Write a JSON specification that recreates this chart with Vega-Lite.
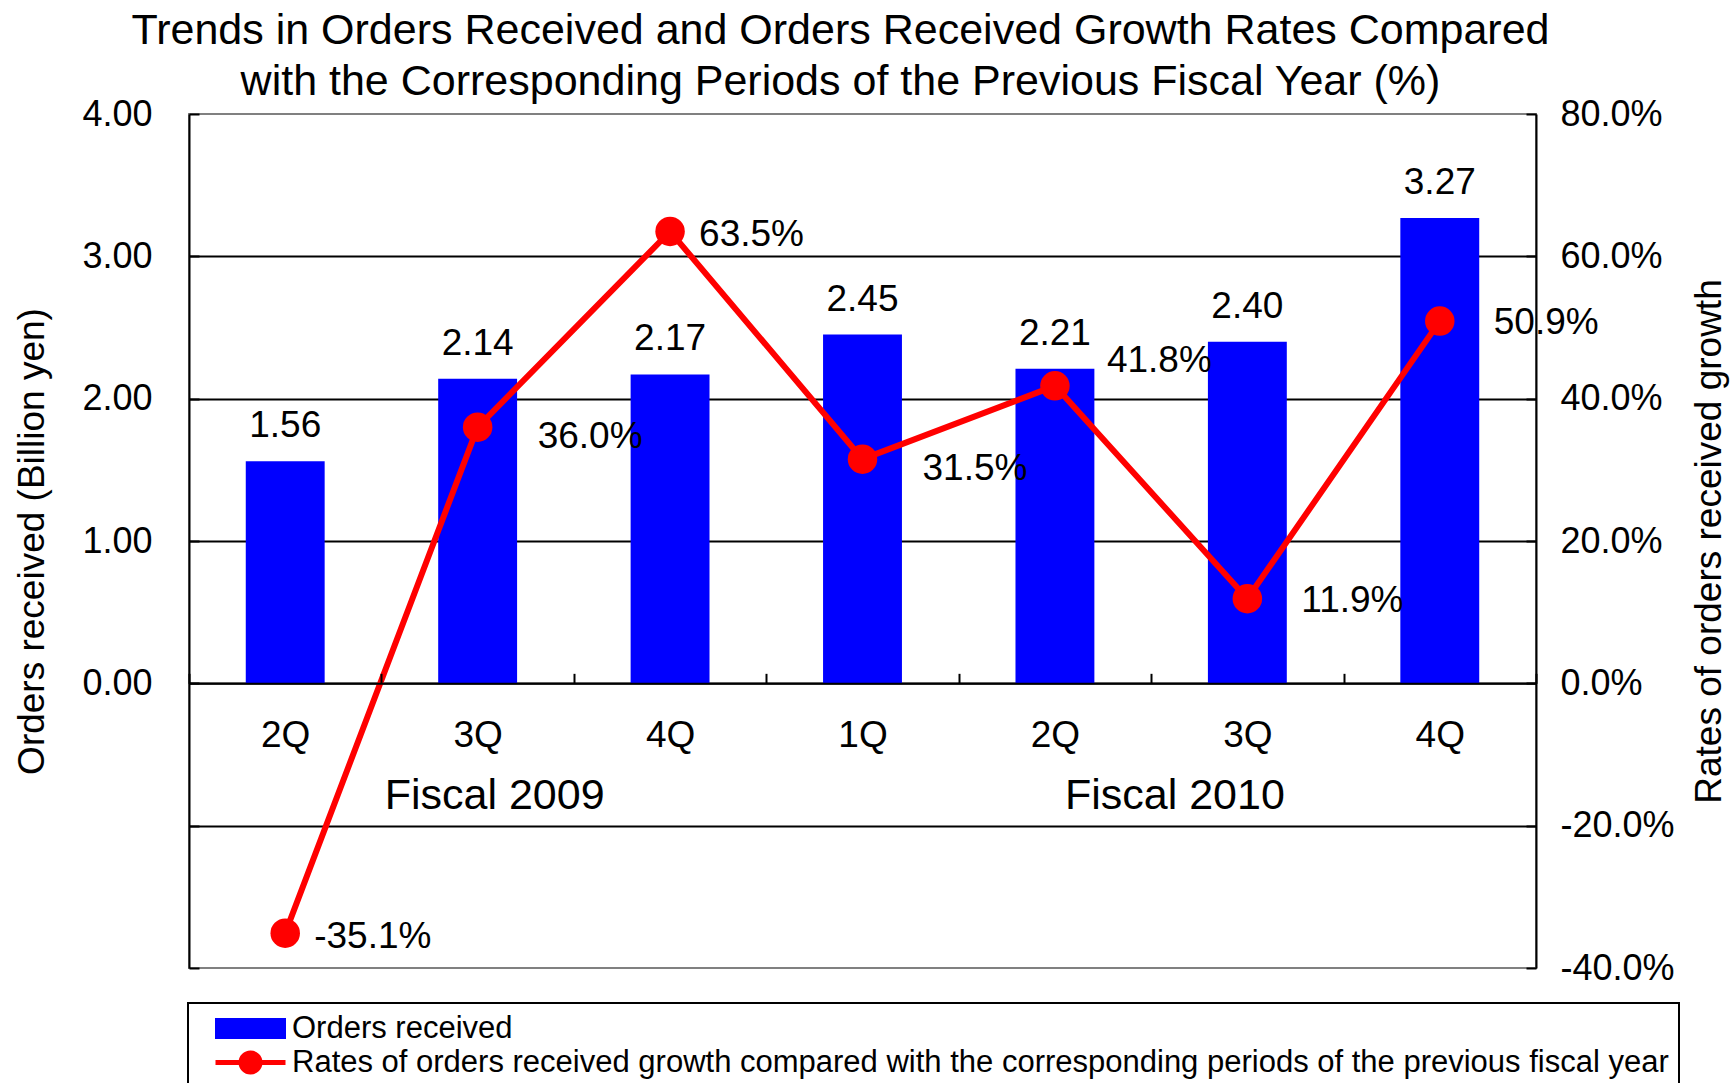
{
  "$schema": "https://vega.github.io/schema/vega-lite/v6.json",
  "width": 1347,
  "height": 854,
  "autosize": {"type": "none"},
  "padding": {"left": 189, "top": 114, "right": 199, "bottom": 115},
  "background": "white",
  "config": {
    "font": "Liberation Sans",
    "locale": {"number": {"decimal": ".", "thousands": ",", "grouping": [3], "currency": ["$", ""], "minus": "-"}},
    "view": {"stroke": "#808080", "strokeWidth": 2},
    "axis": {"labelFont": "Liberation Sans", "titleFont": "Liberation Sans", "labelColor": "black", "titleColor": "black", "titleFontWeight": "normal"},
    "text": {"font": "Liberation Sans", "color": "black"}
  },
  "title": {
    "text": ["Trends in Orders Received and Orders Received Growth Rates Compared", "with the Corresponding Periods of the Previous Fiscal Year (%)"],
    "fontSize": 43,
    "font": "Liberation Sans",
    "fontWeight": "normal",
    "color": "black",
    "lineHeight": 51,
    "anchor": "middle",
    "frame": "group",
    "dx": -22,
    "offset": -8
  },
  "data": {
    "values": [
      {"period": "2009-2Q", "orders": 1.56, "growth": -0.351},
      {"period": "2009-3Q", "orders": 2.14, "growth": 0.360},
      {"period": "2009-4Q", "orders": 2.17, "growth": 0.635},
      {"period": "2010-1Q", "orders": 2.45, "growth": 0.315},
      {"period": "2010-2Q", "orders": 2.21, "growth": 0.418},
      {"period": "2010-3Q", "orders": 2.40, "growth": 0.119},
      {"period": "2010-4Q", "orders": 3.27, "growth": 0.509}
    ]
  },
  "encoding": {
    "x": {
      "field": "period",
      "type": "nominal",
      "sort": null,
      "scale": {"domain": ["2009-2Q", "2009-3Q", "2009-4Q", "2010-1Q", "2010-2Q", "2010-3Q", "2010-4Q"], "paddingInner": 0, "paddingOuter": 0},
      "axis": {
        "title": null,
        "orient": "bottom",
        "offset": -284.67,
        "labelExpr": "slice(datum.label, 5)",
        "labelFontSize": 37,
        "labelPadding": 44,
        "labelAngle": 0,
        "tickBand": "extent",
        "tickSize": -10,
        "tickColor": "black",
        "tickWidth": 2,
        "domainColor": "black",
        "domainWidth": 2,
        "grid": false,
        "zindex": 1
      }
    }
  },
  "layer": [
    {
      "layer": [
        {
          "mark": {"type": "bar", "width": {"band": 0.41}},
          "encoding": {
            "y": {
              "field": "orders",
              "type": "quantitative",
              "scale": {"domain": [-2, 4], "nice": false, "zero": false},
              "axis": {
                "orient": "left",
                "values": [-2, -1, 0, 1, 2, 3, 4],
                "labelExpr": "datum.value >= 0 ? format(datum.value, '.2f') : ''",
                "labelFontSize": 36,
                "labelPadding": 47,
                "tickSize": -10,
                "tickColor": "black",
                "tickWidth": 2,
                "domainColor": "black",
                "domainWidth": 2,
                "grid": false,
                "title": "Orders received (Billion yen)",
                "titleFontSize": 37,
                "titlePadding": 30
              }
            },
            "color": {
              "datum": "Orders received",
              "type": "nominal",
              "scale": {
                "domain": ["Orders received", "Rates of orders received growth compared with the corresponding periods of the previous fiscal year"],
                "range": ["#0000ff", "#ff0000"]
              },
              "legend": {
                "orient": "none",
                "legendX": -1,
                "legendY": 889,
                "direction": "vertical",
                "title": null,
                "labelFont": "Liberation Sans",
                "labelFontSize": 31,
                "labelColor": "black",
                "labelLimit": 3000,
                "labelExpr": "datum.label + ' '",
                "symbolSize": 400,
                "symbolOffset": 37,
                "labelOffset": 26,
                "rowPadding": -6,
                "padding": 10,
                "strokeColor": "black",
                "symbolType": "M-3.3,-0.8H3.3V0.8H-3.3Z",
                "encode": {
                  "legend": {"update": {"strokeWidth": {"value": 2}}},
                  "symbols": {
                    "update": {
                      "shape": {"signal": "datum.value === 'Orders received' ? 'M-3.3,-0.8H3.3V0.8H-3.3Z' : 'M-3.5,0H3.5M0.95,0A0.95,0.95,0,1,1,-0.95,0A0.95,0.95,0,1,1,0.95,0Z'"},
                      "fill": {"signal": "datum.value === 'Orders received' ? '#0000ff' : '#ff0000'"},
                      "stroke": {"signal": "datum.value === 'Orders received' ? 'transparent' : '#ff0000'"},
                      "strokeWidth": {"value": 5},
                      "opacity": {"value": 1},
                      "fillOpacity": {"value": 1},
                      "strokeOpacity": {"value": 1}
                    }
                  }
                }
              }
            }
          }
        },
        {
          "mark": {"type": "text", "fontSize": 37, "baseline": "alphabetic", "align": "center", "dy": -24, "color": "black"},
          "encoding": {
            "y": {"field": "orders", "type": "quantitative"},
            "text": {"field": "orders", "type": "quantitative", "format": ".2f"}
          }
        },
        {
          "data": {"values": [{"label": "Fiscal 2009", "period": "2009-3Q"}]},
          "mark": {"type": "text", "fontSize": 43, "baseline": "alphabetic", "align": "center", "dx": 17, "color": "black"},
          "encoding": {
            "y": {"datum": -0.88, "type": "quantitative"},
            "text": {"field": "label", "type": "nominal"}
          }
        },
        {
          "data": {"values": [{"label": "Fiscal 2010", "period": "2010-2Q"}]},
          "mark": {"type": "text", "fontSize": 43, "baseline": "alphabetic", "align": "center", "dx": 120, "color": "black"},
          "encoding": {
            "y": {"datum": -0.88, "type": "quantitative"},
            "text": {"field": "label", "type": "nominal"}
          }
        }
      ]
    },
    {
      "layer": [
        {
          "mark": {"type": "line", "strokeWidth": 6},
          "encoding": {
            "y": {
              "field": "growth",
              "type": "quantitative",
              "scale": {"domain": [-0.4, 0.8], "nice": false, "zero": false},
              "axis": {
                "orient": "right",
                "values": [-0.4, -0.2, 0, 0.2, 0.4, 0.6, 0.8],
                "format": ".1%",
                "labelFontSize": 36,
                "labelPadding": 34,
                "tickSize": -10,
                "tickColor": "black",
                "tickWidth": 2,
                "domainColor": "black",
                "domainWidth": 2,
                "grid": true,
                "gridColor": {"condition": {"test": "datum.value < -0.39 || datum.value > 0.79", "value": "transparent"}, "value": "black"},
                "gridWidth": 2,
                "title": "Rates of orders received growth",
                "titleFontSize": 37,
                "titleAngle": -90,
                "titleBaseline": "top",
                "titlePadding": 17
              }
            },
            "color": {"datum": "Rates of orders received growth compared with the corresponding periods of the previous fiscal year", "type": "nominal"}
          }
        },
        {
          "mark": {"type": "circle", "size": 870, "opacity": 1},
          "encoding": {
            "y": {"field": "growth", "type": "quantitative"},
            "color": {"datum": "Rates of orders received growth compared with the corresponding periods of the previous fiscal year", "type": "nominal"}
          }
        },
        {
          "transform": [{"filter": "datum.period === '2009-2Q' || datum.period === '2009-4Q'"}],
          "mark": {"type": "text", "fontSize": 37, "align": "left", "baseline": "middle", "dx": 29, "dy": 4, "color": "black"},
          "encoding": {
            "y": {"field": "growth", "type": "quantitative"},
            "text": {"field": "growth", "type": "quantitative", "format": ".1%"}
          }
        },
        {
          "transform": [{"filter": "datum.period === '2009-3Q' || datum.period === '2010-1Q'"}],
          "mark": {"type": "text", "fontSize": 37, "align": "left", "baseline": "middle", "dx": 60, "dy": 10, "color": "black"},
          "encoding": {
            "y": {"field": "growth", "type": "quantitative"},
            "text": {"field": "growth", "type": "quantitative", "format": ".1%"}
          }
        },
        {
          "transform": [{"filter": "datum.period === '2010-3Q' || datum.period === '2010-4Q'"}],
          "mark": {"type": "text", "fontSize": 37, "align": "left", "baseline": "middle", "dx": 54, "dy": 2, "color": "black"},
          "encoding": {
            "y": {"field": "growth", "type": "quantitative"},
            "text": {"field": "growth", "type": "quantitative", "format": ".1%"}
          }
        },
        {
          "transform": [{"filter": "datum.period === '2010-2Q'"}],
          "mark": {"type": "text", "fontSize": 37, "align": "left", "baseline": "middle", "dx": 52, "dy": -25, "color": "black"},
          "encoding": {
            "y": {"field": "growth", "type": "quantitative"},
            "text": {"field": "growth", "type": "quantitative", "format": ".1%"}
          }
        }
      ]
    }
  ],
  "resolve": {"scale": {"y": "independent"}}
}
